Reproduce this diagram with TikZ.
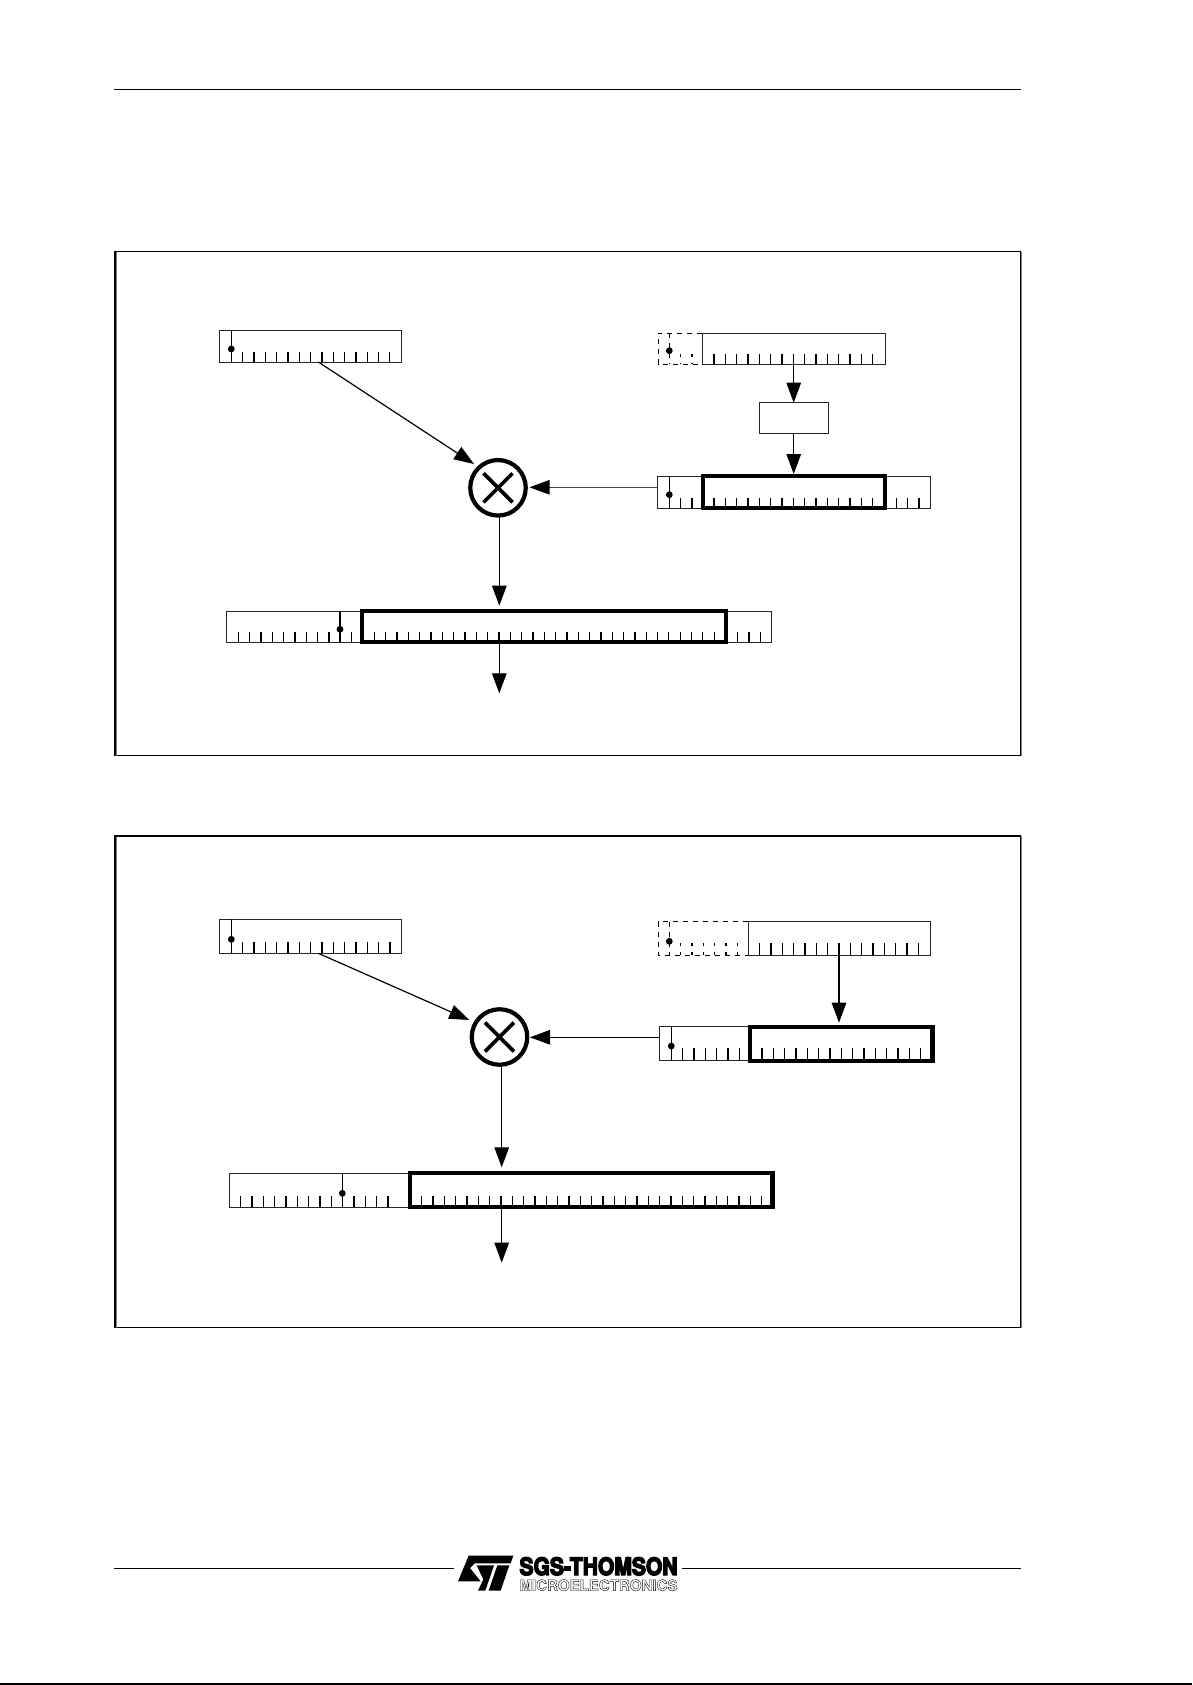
\documentclass[tikz,border=0pt]{standalone}
\usepackage{graphicx}
\usepackage{fontspec}
\setmainfont{TeX Gyre Heros}
\usetikzlibrary{arrows.meta}
\tikzset{
  x=1pt,y=-1pt,
  regbox/.style={draw=black!85,line width=1pt,rectangle,inner sep=0pt,outer sep=0pt,anchor=north west},
  thickbox/.style={draw=black,line width=4.2pt,rectangle,inner sep=0pt,outer sep=0pt,anchor=north west},
  framebox/.style={draw=black,line width=1.3pt,rectangle,inner sep=0pt,outer sep=0pt,anchor=north west},
  plainbox/.style={draw=black!85,line width=1pt,rectangle,inner sep=0pt,outer sep=0pt,anchor=north west},
  mulnode/.style={draw=black,line width=4.2pt,circle,inner sep=0pt,minimum size=55.5pt},
  tickmark/.style={line width=1.2pt,black},
  dashtick/.style={line width=1.2pt,black,dash pattern=on 3pt off 6pt},
  dashline/.style={line width=1pt,black,dash pattern=on 5pt off 5pt},
  conn/.style={line width=1.2pt,black,-{Triangle[length=20pt,width=14.5pt]}},
  connthin/.style={line width=.7pt,black!70,-{Triangle[length=20pt,width=14.5pt,color=black,fill=black]}},
  rule/.style={line width=1pt,black},
  dotmark/.style={fill=black,circle,inner sep=0pt,minimum size=6.8pt},
  bitline/.style={line width=1.2pt,black}
}
% #1 first x, #2 number of intervals, #3 top y, #4 bottom y, #5 style
\newcommand{\tickrow}[5]{\foreach \i in {0,...,#2}{\draw[#5] ({#1+\i*11.33},#3) -- ({#1+\i*11.33},#4);}}
% #1 box name, #2 x left, #3 y top, #4 width, #5 height, #6 style
\newcommand{\regnode}[6]{\node[#6,minimum width=#4pt,minimum height=#5pt] (#1) at (#2,#3) {};}
% #1 name, #2 x, #3 top, #4 bottom, #5 dot y, #6 line style
\newcommand{\bitmark}[6]{\draw[#6] (#2,#3) -- (#2,#4); \node[dotmark] (#1) at (#2,#5) {};}
\begin{document}
\begin{tikzpicture}
\useasboundingbox (0,0) rectangle (1192,1685);
\fill[white] (0,0) rectangle (1192,1685);

% page rules
\coordinate (tl) at (114,89.5); \coordinate (tr) at (1021,89.5);
\draw[rule] (tl) -- (tr);
\coordinate (bl) at (114,1568); \coordinate (blx) at (454,1568);
\coordinate (brx) at (682,1568); \coordinate (br) at (1021,1568);
\draw[rule] (bl) -- (blx);
\draw[rule] (brx) -- (br);
\coordinate (pl) at (0,1684.2); \coordinate (pr) at (1192,1684.2);
\draw[line width=1.6pt] (pl) -- (pr);

% frames
\regnode{frameA}{115}{251.7}{905.5}{504}{framebox}
\regnode{frameB}{115}{836}{905.5}{491.5}{framebox}
\draw[line width=1.2pt,black!50] (1021.6,252) -- (1021.6,756);
\draw[line width=1.2pt,black!50] (1021.6,836) -- (1021.6,1328);
\draw[line width=1.2pt,black!50] (116.2,252.5) -- (116.2,756);
\draw[line width=1.2pt,black!50] (116.2,837) -- (116.2,1328);

% ---------- first diagram ----------
\regnode{a1}{219.5}{330.7}{181.5}{31.3}{regbox}
\bitmark{a1d}{231.3}{330.7}{362}{349}{bitline}
\tickrow{242.6}{13}{351.7}{362}{tickmark}

% dashed source
\draw[dashline] (702,333.3) -- (658,333.3) -- (658,364) -- (702,364);
\draw[dashline] (669.3,333.3) -- (669.3,364);
\node[dotmark] (a2d) at (669.3,350.7) {};
\tickrow{680.7}{1}{353.5}{364}{dashtick}
\regnode{a2}{702.3}{333.3}{182.7}{30.7}{regbox}
\tickrow{714}{14}{353.5}{364}{tickmark}

% small box
\regnode{a3}{759.3}{402.7}{69}{30.6}{plainbox}

% shifted register
\regnode{a4}{657.3}{476}{272.7}{32.3}{regbox}
\bitmark{a4d}{669.3}{476}{508.3}{494.7}{bitline}
\tickrow{680.7}{1}{497.5}{508}{tickmark}
\tickrow{714}{14}{497.5}{508}{tickmark}
\tickrow{896.3}{2}{497.5}{508}{tickmark}
\regnode{a5}{702.7}{476}{182}{32.3}{thickbox}

% multiplier
\node[mulnode] (m1) at (498,487.8) {};
\draw[line width=3.6pt] (483.5,473.3) -- (512.5,502.3);
\draw[line width=3.6pt] (483.5,502.3) -- (512.5,473.3);

% result
\regnode{a6}{226.7}{611.5}{545}{31}{regbox}
\bitmark{a6d}{340}{611.5}{642.3}{629.3}{bitline}
\tickrow{238.3}{8}{632.3}{642}{tickmark}
\tickrow{351.7}{0}{632.3}{642}{tickmark}
\tickrow{374.3}{30}{632.3}{642}{tickmark}
\tickrow{737.7}{2}{632.3}{642}{tickmark}
\regnode{a7}{362.3}{611}{363.7}{31}{thickbox}

% connectors
\coordinate (a1s) at (318.3,362);
\coordinate (m1nw) at (474,464);
\coordinate (a2s) at (793.7,364);
\coordinate (a3n) at (793.7,402.7);
\coordinate (a3s) at (793.7,433.3);
\coordinate (a5n) at (793.7,474);
\coordinate (a4w) at (657.3,487.3);
\coordinate (m1w) at (529.5,487.3);
\coordinate (m1s) at (499.3,516);
\coordinate (a7n) at (499.3,605.7);
\coordinate (a7s) at (499.3,642.3);
\coordinate (a7o) at (499.3,693.3);
\draw[conn] (a1s) -- (m1nw);
\draw[conn] (a2s) -- (a3n);
\draw[conn] (a3s) -- (a5n);
\draw[connthin] (a4w) -- (m1w);
\draw[conn] (m1s) -- (a7n);
\draw[conn] (a7s) -- (a7o);

% ---------- second diagram ----------
\regnode{b1}{219.3}{919.3}{182}{34}{regbox}
\bitmark{b1d}{231.3}{919.3}{953.3}{939.3}{bitline}
\tickrow{242.7}{13}{942}{953}{tickmark}

% dashed source
\draw[dashline] (748.3,921.7) -- (658.3,921.7) -- (658.3,955) -- (748.3,955);
\draw[dashline] (669.3,921.7) -- (669.3,955);
\node[dotmark] (b2d) at (669.3,941.3) {};
\tickrow{680.7}{5}{943.3}{955}{dashtick}
\regnode{b2}{748.3}{921.7}{181.7}{33.3}{regbox}
\tickrow{759.7}{14}{943.3}{955}{tickmark}

% shifted register
\regnode{b3}{659.3}{1026.7}{274.7}{34}{regbox}
\bitmark{b3d}{671.3}{1026.7}{1060.7}{1046}{bitline}
\tickrow{682.7}{5}{1048.3}{1060.5}{tickmark}
\tickrow{762}{14}{1048.3}{1060.5}{tickmark}
\regnode{b4}{750}{1026.7}{182.5}{34}{thickbox}

% multiplier
\node[mulnode] (m2) at (499.5,1037) {};
\draw[line width=3.6pt] (485,1022.5) -- (514,1051.5);
\draw[line width=3.6pt] (485,1051.5) -- (514,1022.5);

% result
\regnode{b5}{229}{1173.3}{544}{34}{regbox}
\bitmark{b5d}{342.3}{1173.3}{1207.3}{1193.3}{bitline}
\tickrow{240.7}{8}{1196}{1207}{tickmark}
\tickrow{354}{3}{1196}{1207}{tickmark}
\tickrow{421.7}{30}{1196}{1207}{tickmark}
\regnode{b6}{410}{1173}{362.5}{34}{thickbox}

% connectors
\coordinate (b1s) at (318.3,953.3);
\coordinate (m2nw) at (469.3,1020);
\coordinate (b2s) at (839,955);
\coordinate (b4n) at (839,1022.7);
\coordinate (b3w) at (659.3,1037.3);
\coordinate (m2w) at (530,1037.3);
\coordinate (m2s) at (501.7,1066);
\coordinate (b6n) at (501.7,1167.3);
\coordinate (b6s) at (501.7,1207.3);
\coordinate (b6o) at (501.7,1262.7);
\draw[conn] (b1s) -- (m2nw);
\draw[conn] (b2s) -- (b4n);
\draw[conn] (b3w) -- (m2w);
\draw[conn] (m2s) -- (b6n);
\draw[conn] (b6s) -- (b6o);

% ---------- logo ----------
\begin{scope}[shift={(450,1550)},x=0.3333pt,y=-0.3333pt]
  \fill[black] (56,17) -- (190,17) -- (182,40) -- (74,40) -- (60,54) -- (92,94) -- (24,94) -- cycle;
  \fill[black] (80,46) -- (132,46) -- (106,122) -- (84,122) -- (100,88) -- cycle;
  \fill[black] (142,46) -- (178,46) -- (152,122) -- (116,122) -- cycle;
\end{scope}
\node[anchor=base west,inner sep=0pt] (logoA) at (519.3,1575) {\resizebox{158pt}{17.7pt}{\special{pdf:code q 2 Tr 0.6 w}\bfseries SGS-THOMSON\special{pdf:code Q}}};
\node[anchor=base west,inner sep=0pt] (logoB) at (519.3,1590.7) {\resizebox{158pt}{11.2pt}{\special{pdf:code q 1 Tr 0.25 w}\bfseries MICROELECTRONICS\special{pdf:code Q}}};
\end{tikzpicture}
\end{document}
